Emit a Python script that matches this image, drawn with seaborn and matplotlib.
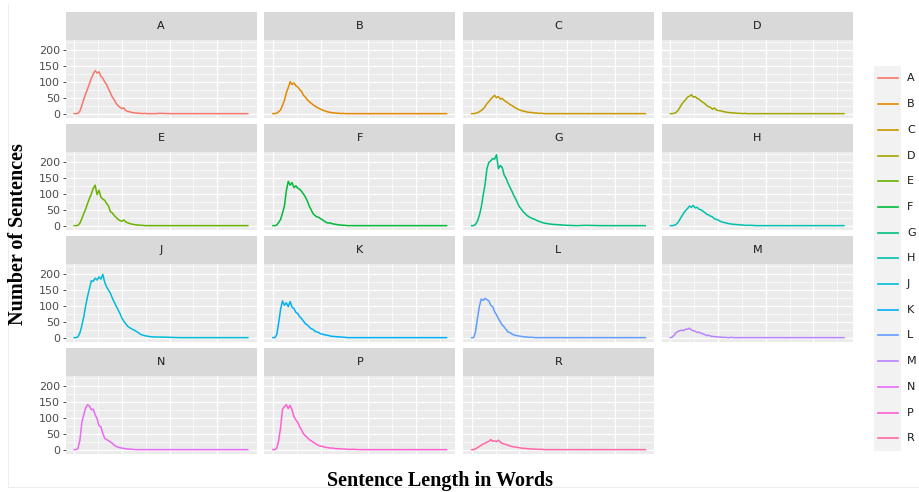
import numpy as np
import pandas as pd
import matplotlib
matplotlib.use('Agg')
import matplotlib.pyplot as plt
import seaborn as sns
from matplotlib.lines import Line2D
from matplotlib.patches import Rectangle

# ── data ──────────────────────────────────────────────────────────────────────
GROUPS = ['A', 'B', 'C', 'D', 'E', 'F', 'G', 'H', 'J', 'K', 'L', 'M', 'N', 'P', 'R']

LENGTH = [0, 2, 4, 6, 8, 10, 12, 14, 16, 18,
          20, 22, 24, 26, 28, 30, 32, 34, 36, 38,
          40, 42, 44, 46, 48, 50, 52, 54, 56, 58,
          60, 62, 64, 66, 68, 70, 72, 74, 76, 78,
          80, 85, 90, 100, 110, 120, 135, 150, 165, 182]

COUNT_A = [0, 0, 1, 8, 25, 45, 62, 78, 95, 112,
           125, 136, 128, 132, 118, 112, 100, 92, 78, 66,
           52, 44, 32, 25, 20, 16, 18, 10, 7, 6,
           4, 3, 2, 2, 1, 1, 0, 1, 0, 0,
           0, 0, 1, 0, 0, 0, 0, 0, 0, 0]
COUNT_B = [0, 0, 2, 6, 12, 26, 42, 66, 82, 101,
           92, 97, 88, 84, 76, 70, 58, 52, 44, 38,
           33, 28, 24, 20, 17, 14, 11, 9, 7, 5,
           4, 3, 2, 2, 1, 1, 0, 1, 0, 0,
           0, 0, 0, 0, 0, 0, 0, 0, 0, 0]
COUNT_C = [0, 0, 1, 3, 6, 10, 15, 22, 32, 38,
           46, 52, 58, 50, 54, 46, 48, 42, 38, 34,
           29, 26, 22, 18, 15, 12, 10, 8, 7, 5,
           4, 4, 3, 2, 2, 1, 1, 1, 0, 0,
           0, 0, 0, 0, 0, 0, 0, 0, 0, 0]
COUNT_D = [0, 0, 1, 4, 10, 20, 30, 38, 44, 52,
           55, 60, 52, 54, 48, 46, 40, 36, 32, 26,
           22, 20, 14, 18, 12, 10, 9, 8, 6, 5,
           4, 3, 3, 2, 2, 1, 1, 1, 0, 1,
           0, 0, 0, 0, 0, 0, 0, 0, 0, 0]
COUNT_E = [0, 0, 1, 8, 22, 38, 52, 70, 86, 100,
           118, 128, 98, 112, 90, 84, 80, 70, 62, 44,
           40, 32, 26, 20, 16, 14, 18, 12, 9, 7,
           5, 4, 3, 2, 2, 1, 1, 0, 0, 0,
           0, 0, 0, 0, 0, 0, 0, 0, 0, 0]
COUNT_F = [0, 0, 2, 10, 20, 40, 62, 110, 140, 128,
           136, 120, 126, 118, 115, 108, 100, 90, 78, 62,
           50, 38, 32, 28, 26, 22, 18, 14, 10, 8,
           9, 6, 5, 4, 3, 2, 2, 1, 1, 0,
           0, 0, 0, 0, 0, 0, 0, 0, 0, 0]
COUNT_G = [0, 0, 4, 14, 32, 58, 95, 130, 180, 200,
           205, 212, 210, 224, 180, 190, 184, 160, 150, 135,
           122, 110, 96, 85, 72, 60, 52, 44, 38, 32,
           28, 25, 22, 20, 17, 14, 12, 10, 8, 7,
           6, 4, 3, 1, 0, 1, 0, 0, 0, 0]
COUNT_H = [0, 0, 1, 4, 10, 20, 30, 40, 48, 54,
           62, 58, 64, 56, 58, 52, 50, 46, 42, 36,
           34, 30, 28, 22, 20, 18, 14, 12, 10, 9,
           7, 6, 5, 4, 4, 3, 3, 2, 2, 1,
           1, 1, 0, 0, 0, 0, 0, 0, 0, 0]
COUNT_J = [0, 0, 3, 15, 38, 65, 100, 130, 155, 180,
           178, 188, 182, 192, 185, 200, 175, 160, 150, 140,
           125, 112, 100, 88, 76, 62, 52, 44, 36, 32,
           28, 25, 22, 18, 14, 10, 8, 6, 5, 4,
           3, 2, 2, 1, 0, 0, 0, 0, 0, 0]
COUNT_K = [0, 0, 10, 48, 90, 116, 102, 110, 98, 114,
           96, 92, 80, 76, 66, 60, 52, 44, 40, 34,
           28, 26, 20, 18, 16, 12, 11, 9, 8, 7,
           5, 4, 4, 3, 3, 2, 2, 1, 1, 0,
           0, 0, 0, 0, 0, 0, 0, 0, 0, 0]
COUNT_L = [0, 0, 18, 60, 98, 122, 118, 124, 120, 116,
           102, 98, 82, 72, 60, 50, 40, 34, 26, 18,
           16, 12, 9, 7, 6, 5, 4, 3, 2, 2,
           1, 1, 1, 0, 0, 0, 0, 0, 0, 0,
           0, 0, 0, 0, 0, 0, 0, 0, 0, 0]
COUNT_M = [0, 2, 8, 16, 20, 22, 24, 22, 27, 26,
           30, 24, 22, 20, 16, 18, 14, 12, 10, 6,
           8, 5, 4, 3, 3, 2, 2, 1, 1, 1,
           0, 0, 1, 0, 0, 0, 0, 0, 0, 0,
           0, 0, 0, 0, 0, 0, 0, 0, 0, 0]
COUNT_N = [0, 0, 4, 30, 85, 110, 132, 142, 138, 126,
           128, 110, 98, 76, 72, 52, 36, 32, 28, 24,
           20, 14, 10, 8, 6, 5, 4, 3, 2, 2,
           1, 1, 0, 0, 0, 0, 0, 0, 0, 0,
           0, 0, 0, 0, 0, 0, 0, 0, 0, 0]
COUNT_P = [0, 0, 5, 30, 70, 128, 136, 142, 130, 140,
           125, 104, 94, 86, 72, 62, 50, 44, 38, 32,
           28, 24, 20, 16, 13, 11, 10, 8, 7, 6,
           5, 5, 4, 3, 3, 3, 2, 2, 2, 1,
           1, 1, 0, 0, 0, 0, 0, 0, 0, 0]
COUNT_R = [0, 0, 3, 6, 10, 14, 18, 20, 24, 26,
           32, 26, 28, 25, 30, 24, 20, 18, 16, 14,
           12, 10, 9, 8, 7, 6, 5, 4, 4, 3,
           3, 2, 2, 2, 1, 1, 1, 1, 0, 0,
           0, 0, 0, 0, 0, 0, 0, 0, 0, 0]

COUNTS = [COUNT_A, COUNT_B, COUNT_C, COUNT_D, COUNT_E, COUNT_F, COUNT_G, COUNT_H,
          COUNT_J, COUNT_K, COUNT_L, COUNT_M, COUNT_N, COUNT_P, COUNT_R]

df = pd.concat([pd.DataFrame({'length': LENGTH, 'count': c, 'group': g})
                for g, c in zip(GROUPS, COUNTS)], ignore_index=True)


# ── ggplot-like hue palette (hcl, l=65, c=100) ────────────────────────────────
def hcl_hex(h, c=100.0, l=65.0):
    hr = np.deg2rad(h)
    u, v = c * np.cos(hr), c * np.sin(hr)
    xn, yn, zn = 95.047, 100.0, 108.883
    un = 4 * xn / (xn + 15 * yn + 3 * zn)
    vn = 9 * yn / (xn + 15 * yn + 3 * zn)
    Y = yn * ((l + 16) / 116) ** 3
    up = u / (13 * l) + un
    vp = v / (13 * l) + vn
    X = Y * 9 * up / (4 * vp)
    Z = Y * (12 - 3 * up - 20 * vp) / (4 * vp)
    xyz = np.array([X, Y, Z]) / 100
    m = np.array([[3.2404542, -1.5371385, -0.4985314],
                  [-0.9692660, 1.8760108, 0.0415560],
                  [0.0556434, -0.2040259, 1.0572252]])
    rgb = m @ xyz
    rgb = np.where(rgb <= 0.0031308, 12.92 * rgb,
                   1.055 * np.power(np.clip(rgb, 0, None), 1 / 2.4) - 0.055)
    return tuple(np.clip(rgb, 0, 1))


n = len(GROUPS)
hues = np.linspace(15, 375, n + 1)[:n]
palette = {g: hcl_hex(h) for g, h in zip(GROUPS, hues)}

# ── layout (pixels, top-left origin) ─────────────────────────────────────────
W, H = 920, 492
COL_LEFT = [65.5, 264.3, 463.0, 661.7]
ROW_TOP = [12.3, 124.3, 236.3, 348.3]
PANEL_W, STRIP_H, PANEL_H = 191.0, 27.6, 77.7


def box(left, top, w, h):
    return [left / W, 1 - (top + h) / H, w / W, h / H]


fig = plt.figure(figsize=(W / 100, H / 100), dpi=100)
fig.patch.set_facecolor('white')

for i, g in enumerate(GROUPS):
    r, c = divmod(i, 4)
    left, top = COL_LEFT[c], ROW_TOP[r]

    # strip
    sax = fig.add_axes(box(left, top, PANEL_W, STRIP_H))
    sax.set_facecolor('#D9D9D9')
    sax.set_xticks([]); sax.set_yticks([])
    for s in sax.spines.values():
        s.set_visible(False)
    sax.text(0.5, 0.5, g, ha='center', va='center', fontsize=8, color='#1A1A1A',
             transform=sax.transAxes)

    # panel
    ax = fig.add_axes(box(left, top + STRIP_H, PANEL_W, PANEL_H))
    ax.set_facecolor('#EBEBEB')
    sns.lineplot(data=df[df['group'] == g], x='length', y='count', color=palette[g],
                 lw=1.1, ax=ax, legend=False, errorbar=None)
    ax.set_xlim(-9.1, 191.1)
    ax.set_ylim(-12.5, 233)
    ax.set_xticks([0, 50, 100, 150])
    ax.set_xticks([25, 75, 125, 175], minor=True)
    ax.set_yticks([0, 50, 100, 150, 200])
    ax.set_yticks([25, 75, 125, 175, 225], minor=True)
    ax.grid(which='major', color='white', lw=0.9)
    ax.grid(which='minor', color='white', lw=0.45)
    ax.set_axisbelow(True)
    for s in ax.spines.values():
        s.set_visible(False)
    ax.set_xlabel(''); ax.set_ylabel('')
    ax.tick_params(axis='x', which='both', length=0, labelbottom=False)
    ax.tick_params(axis='y', which='minor', length=0)
    if c == 0:
        ax.tick_params(axis='y', which='major', length=2.5, width=0.6, color='#333333',
                       labelsize=8, labelcolor='#4D4D4D', pad=1.5)
    else:
        ax.tick_params(axis='y', which='major', length=0, labelleft=False)

# legend (ggplot-style key column)
KEY_TOP, KEY_H = 65.6, 25.7
fig.add_artist(Rectangle((874 / W, 1 - (KEY_TOP + KEY_H * n) / H), 27 / W, KEY_H * n / H,
                         transform=fig.transFigure, facecolor='#F2F2F2', edgecolor='none'))
for i, g in enumerate(GROUPS):
    yc = 1 - (KEY_TOP + KEY_H * (i + 0.5)) / H
    fig.add_artist(Line2D([878 / W, 898 / W], [yc, yc], transform=fig.transFigure,
                          color=palette[g], lw=1.2))
    fig.text(907 / W, yc, g, ha='left', va='center', fontsize=8, color='#1A1A1A')

# faint outer frame of the embedded figure
fig.add_artist(Line2D([8 / W, 8 / W], [1 - 4 / H, 1 - 487 / H], transform=fig.transFigure,
                      color='#EDEDED', lw=0.8))
fig.add_artist(Line2D([8 / W, 1.0], [1 - 487 / H, 1 - 487 / H], transform=fig.transFigure,
                      color='#EDEDED', lw=0.8))

# axis titles
fig.text(18 / W, 1 - 234 / H, 'Number of Sentences', rotation=90, ha='center', va='center',
         fontfamily='Liberation Serif', fontweight='bold', fontsize=14.5, color='black')
fig.text(440 / W, 1 - 481 / H, 'Sentence Length in Words', ha='center', va='center',
         fontfamily='Liberation Serif', fontweight='bold', fontsize=14.5, color='black')

fig.savefig('out.png', dpi=100)
plt.close(fig)
